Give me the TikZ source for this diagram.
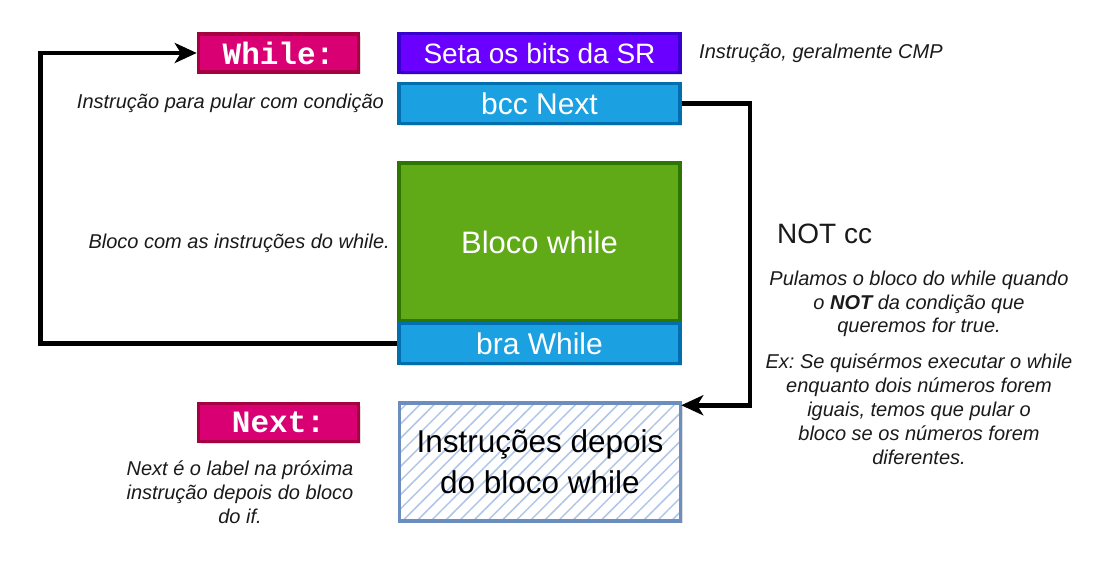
\documentclass[tikz,border=0pt]{standalone}
\usepackage{fontspec}
\setmainfont{Liberation Sans}
\newfontfamily\labelfont{Liberation Mono}
\usetikzlibrary{arrows.meta,patterns.meta,shadows}
\frenchspacing

\definecolor{lblfill}{HTML}{D80073}
\definecolor{lbldraw}{HTML}{A50040}
\definecolor{srfill}{HTML}{6A00FF}
\definecolor{srdraw}{HTML}{3700CC}
\definecolor{brfill}{HTML}{1BA1E2}
\definecolor{brdraw}{HTML}{006EAF}
\definecolor{blkfill}{HTML}{60A917}
\definecolor{blkdraw}{HTML}{2D7600}
\definecolor{afterdraw}{HTML}{6C8EBF}
\definecolor{afterhatch}{HTML}{AFC6E9}
\definecolor{notetext}{HTML}{1A1A1A}

\tikzset{
  box/.style={draw, line width=3.5pt, inner sep=0pt, text=white,
    minimum width=281pt, drop shadow={opacity=0.25, shadow xshift=2pt, shadow yshift=-2pt}},
  lbl/.style={box, fill=lblfill, draw=lbldraw, minimum width=160pt, minimum height=38pt,
    font=\labelfont\bfseries\fontsize{31}{31}\selectfont},
  note/.style={inner sep=0pt, text=notetext, font=\itshape\fontsize{20}{24}\selectfont},
  flow/.style={line width=4.5pt, -{Stealth[length=22pt,width=20pt,inset=6pt]}}
}

\begin{document}
\begin{tikzpicture}[x=1pt,y=-1pt]
\useasboundingbox (0,0) rectangle (1117,570);

% labels
\node[lbl] (while) at (278.5,53) {While:};
\node[lbl] (next) at (278.5,422.5) {Next:};

% instructions
\node[box, fill=srfill, draw=srdraw, minimum height=39pt,
  font=\fontsize{28}{28}\selectfont] (seta) at (539.5,53) {Seta os bits da SR};
\node[box, fill=brfill, draw=brdraw, minimum height=40pt,
  font=\fontsize{30}{30}\selectfont] (bcc) at (539.5,103.5) {bcc Next};
\node[box, fill=blkfill, draw=blkdraw, minimum height=158pt,
  font=\fontsize{31}{31}\selectfont] (bloco) at (539.5,242) {Bloco while};
\node[box, fill=brfill, draw=brdraw, minimum height=40pt,
  font=\fontsize{30}{30}\selectfont] (bra) at (539.5,343.5) {bra While};
\node[box, draw=afterdraw, text=black, fill=white, minimum height=118pt, align=center,
  preaction={fill=white},
  pattern={Lines[angle=45,distance=10pt,line width=1.5pt]}, pattern color=afterhatch,
  font=\fontsize{31.5}{41}\selectfont] (after) at (540,462) {Instruções depois\\do bloco while};

% jumps
\draw[flow] (bra.west) -- ++(-357,0) |- (while.west);
\draw[flow] (bcc.east) -- ++(68,0) |- ([yshift=-3pt]after.north east);

% comments
\node[note, anchor=east] (c1) at (384,103) {Instrução para pular com condição};
\node[note, anchor=west] (c2) at (699,53) {Instrução, geralmente CMP};
\node[note, anchor=east] (c3) at (390,243) {Bloco com as instruções do while.};
\node[inner sep=0pt, anchor=west, text=notetext, font=\fontsize{28}{28}\selectfont] (cond) at (777,234) {NOT cc};
\node[note, align=center, font=\itshape\fontsize{20}{23.5}\selectfont] (c4) at (919,304)
  {Pulamos o bloco do while quando\\o \textbf{NOT} da condição que\\queremos for true.};
\node[note, align=center] (c5) at (919,409.5)
  {Ex: Se quisérmos executar o while\\enquanto dois números forem\\iguais, temos que pular o\\bloco se os números forem\\diferentes.};
\node[note, align=center] (c6) at (240,492)
  {Next é o label na próxima\\instrução depois do bloco\\do if.};
\end{tikzpicture}
\end{document}
